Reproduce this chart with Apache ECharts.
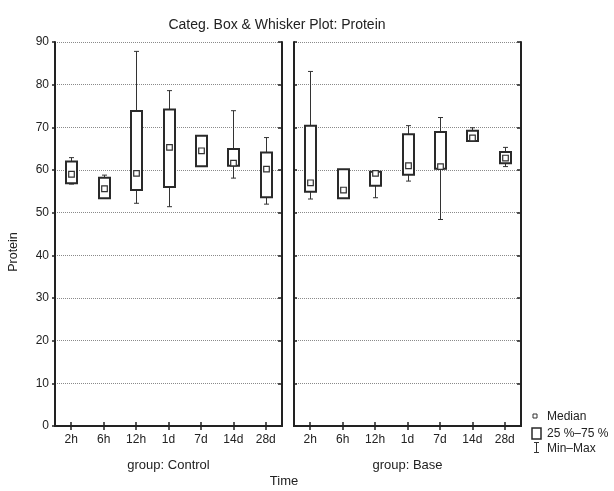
<!DOCTYPE html>
<html>
<head>
<meta charset="utf-8">
<script src="https://cdn.jsdelivr.net/npm/echarts@6/dist/echarts.min.js"></script>
<style>html,body{margin:0;padding:0;background:#fff;}#c{width:614px;height:491px;}</style>
</head>
<body>
<div id="c"></div>
<script>
const categories = ['2h', '6h', '12h', '1d', '7d', '14d', '28d'];
const groups = ['group: Control', 'group: Base'];

const controlMin    = [56.7, 53.3, 52.2, 51.4, 60.9, 58.1, 52.0];
const controlQ1     = [56.9, 53.4, 55.3, 56.0, 60.9, 61.0, 53.6];
const controlMedian = [59.0, 55.6, 59.2, 65.3, 64.5, 61.6, 60.2];
const controlQ3     = [62.0, 58.2, 73.8, 74.2, 68.0, 64.9, 64.1];
const controlMax    = [62.9, 58.8, 87.8, 78.6, 68.0, 73.9, 67.6];

const baseMin    = [53.2, 53.4, 53.5, 57.4, 48.4, 66.7, 60.8];
const baseQ1     = [54.9, 53.4, 56.3, 58.9, 60.3, 66.8, 61.6];
const baseMedian = [57.0, 55.3, 59.2, 61.0, 60.8, 67.5, 62.8];
const baseQ3     = [70.4, 60.2, 59.6, 68.4, 68.9, 69.2, 64.2];
const baseMax    = [83.1, 60.2, 59.7, 70.4, 72.3, 69.9, 65.3];

const yMin = 0, yMax = 90, yStep = 10;

const FONT = 'Liberation Sans';
const INK = '#222';

function buildRows(mn, q1, md, q3, mx) {
  return categories.map((c, i) => [i, mn[i], q1[i], md[i], q3[i], mx[i]]);
}

function renderBox(params, api) {
  const x = api.value(0);
  const pMin = api.coord([x, api.value(1)]);
  const pQ1 = api.coord([x, api.value(2)]);
  const pMed = api.coord([x, api.value(3)]);
  const pQ3 = api.coord([x, api.value(4)]);
  const pMax = api.coord([x, api.value(5)]);
  const cx = Math.round(pMin[0]) + 0.5;
  const hw = 5.5, cap = 2.5, ms = 2.8;
  const wl = { stroke: '#333', lineWidth: 1 };
  const children = [];
  if (pMin[1] - pQ1[1] > 0.5) {
    children.push({ type: 'line', shape: { x1: cx, y1: pQ1[1], x2: cx, y2: pMin[1] }, style: wl });
    children.push({ type: 'line', shape: { x1: cx - cap, y1: pMin[1], x2: cx + cap, y2: pMin[1] }, style: wl });
  }
  if (pQ3[1] - pMax[1] > 0.5) {
    children.push({ type: 'line', shape: { x1: cx, y1: pQ3[1], x2: cx, y2: pMax[1] }, style: wl });
    children.push({ type: 'line', shape: { x1: cx - cap, y1: pMax[1], x2: cx + cap, y2: pMax[1] }, style: wl });
  }
  children.push({ type: 'rect', shape: { x: cx - hw, y: pQ3[1], width: hw * 2, height: pQ1[1] - pQ3[1] },
    style: { fill: '#fff', stroke: '#2a2a2a', lineWidth: 2 } });
  children.push({ type: 'rect', shape: { x: cx - ms, y: pMed[1] - ms, width: ms * 2, height: ms * 2 },
    style: { fill: '#fff', stroke: '#333', lineWidth: 1.2 } });
  return { type: 'group', children };
}

const grids = [
  { left: 55, top: 42, width: 227, height: 384 },
  { left: 294, top: 42, width: 227, height: 384 }
];

const xAxes = [], yAxes = [];
grids.forEach((g, gi) => {
  xAxes.push({
    gridIndex: gi, type: 'category', data: categories, position: 'bottom',
    axisLine: { show: true, lineStyle: { color: INK, width: 2 } },
    axisTick: { show: true, inside: true, alignWithLabel: true, length: 4, lineStyle: { color: INK, width: 1.5 } },
    axisLabel: { fontFamily: FONT, fontSize: 12, color: INK, margin: 8 },
    name: groups[gi], nameLocation: 'middle', nameGap: 33,
    nameTextStyle: { fontFamily: FONT, fontSize: 13, color: INK },
    splitLine: { show: false }
  });
  xAxes.push({
    gridIndex: gi, type: 'category', data: categories, position: 'top',
    axisLine: { show: true, lineStyle: { color: INK, width: 2 } },
    axisTick: { show: true, inside: true, alignWithLabel: true, length: 4, lineStyle: { color: INK, width: 1.5 } },
    axisLabel: { show: false }, splitLine: { show: false }
  });
  yAxes.push({
    gridIndex: gi, type: 'value', min: yMin, max: yMax, interval: yStep, position: 'left',
    axisLine: { show: true, lineStyle: { color: INK, width: 2 } },
    axisTick: { show: true, inside: gi === 1, length: 3, lineStyle: { color: INK, width: 1.5 } },
    axisLabel: { show: gi === 0, fontFamily: FONT, fontSize: 12, color: INK, margin: 6 },
    splitLine: { show: true, lineStyle: { color: '#8a8a8a', type: 'dotted', width: 1 } }
  });
  yAxes.push({
    gridIndex: gi, type: 'value', min: yMin, max: yMax, interval: yStep, position: 'right',
    axisLine: { show: true, lineStyle: { color: INK, width: 2 } },
    axisTick: { show: true, inside: true, length: 4, lineStyle: { color: INK, width: 1.5 } },
    axisLabel: { show: false }, splitLine: { show: false }
  });
});

const option = {
  backgroundColor: '#fff',
  animation: false,
  title: {
    text: 'Categ. Box & Whisker Plot: Protein', left: 272, top: 13, textAlign: 'center',
    textStyle: { fontFamily: FONT, fontSize: 14, fontWeight: 'normal', color: INK }
  },
  grid: grids,
  xAxis: xAxes,
  yAxis: yAxes,
  series: [
    { type: 'custom', xAxisIndex: 0, yAxisIndex: 0, renderItem: renderBox,
      data: buildRows(controlMin, controlQ1, controlMedian, controlQ3, controlMax), z: 5 },
    { type: 'custom', xAxisIndex: 2, yAxisIndex: 2, renderItem: renderBox,
      data: buildRows(baseMin, baseQ1, baseMedian, baseQ3, baseMax), z: 5 }
  ],
  graphic: [
    { type: 'text', x: 284, y: 481, style: { text: 'Time', font: '13px ' + FONT, fill: INK, align: 'center', verticalAlign: 'middle' } },
    { type: 'text', x: 7, y: 252, rotation: Math.PI / 2,
      style: { text: 'Protein', font: '12.5px ' + FONT, fill: INK, align: 'center', verticalAlign: 'top' } },
    { type: 'rect', shape: { x: 533, y: 414, width: 4, height: 4 }, style: { fill: '#fff', stroke: '#333', lineWidth: 1 } },
    { type: 'rect', shape: { x: 532, y: 428, width: 9, height: 11 }, style: { fill: '#fff', stroke: '#2a2a2a', lineWidth: 1.5 } },
    { type: 'line', shape: { x1: 536.5, y1: 442, x2: 536.5, y2: 453 }, style: { stroke: '#333', lineWidth: 1 } },
    { type: 'line', shape: { x1: 534, y1: 442.5, x2: 539, y2: 442.5 }, style: { stroke: '#333', lineWidth: 1 } },
    { type: 'line', shape: { x1: 534, y1: 452.5, x2: 539, y2: 452.5 }, style: { stroke: '#333', lineWidth: 1 } },
    { type: 'text', x: 547, y: 417, style: { text: 'Median', font: '12px ' + FONT, fill: INK, verticalAlign: 'middle' } },
    { type: 'text', x: 547, y: 434, style: { text: '25 %\u201375 %', font: '12px ' + FONT, fill: INK, verticalAlign: 'middle' } },
    { type: 'text', x: 547, y: 449, style: { text: 'Min\u2013Max', font: '12px ' + FONT, fill: INK, verticalAlign: 'middle' } }
  ]
};

const chart = echarts.init(document.getElementById('c'), null, { renderer: 'canvas' });
chart.setOption(option);
</script>
</body>
</html>
